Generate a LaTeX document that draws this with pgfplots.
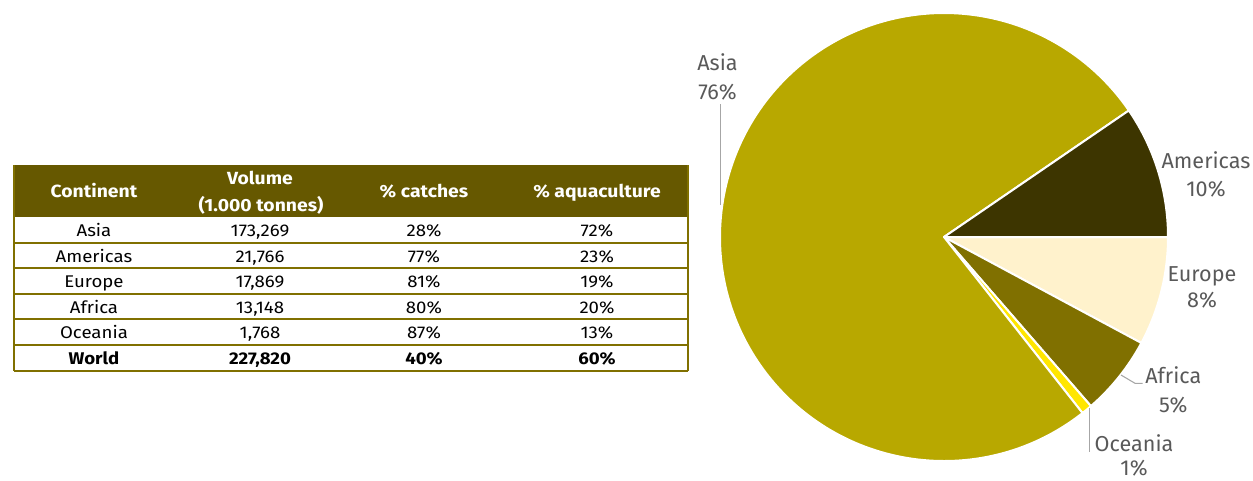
\documentclass[border=0pt]{standalone}
\usepackage{pgfplots}
\pgfplotsset{compat=1.18}
\usepackage{pgfplotstable}
\usepackage{fontspec}
\setmainfont{Fira Sans}
\newfontfamily\tablefont[FakeStretch=1.1]{Fira Sans}
\definecolor{cAsia}{RGB}{184,168,0}
\definecolor{cAmericas}{RGB}{61,53,0}
\definecolor{cEurope}{RGB}{255,242,204}
\definecolor{cAfrica}{RGB}{128,112,0}
\definecolor{cOceania}{RGB}{255,230,0}
\definecolor{hdr}{RGB}{102,88,0}
\definecolor{rule}{RGB}{128,112,0}
\definecolor{lbl}{RGB}{89,89,89}
\definecolor{lead}{RGB}{166,166,166}

% slices clockwise from 3 o'clock
\pgfplotstableread{
name value color
Europe 17869 cEurope
Africa 13148 cAfrica
Oceania 1768 cOceania
Asia 173269 cAsia
Americas 21766 cAmericas
}\piedata

\pgfplotstablegetrowsof{\piedata}
\pgfmathtruncatemacro\lastrow{\pgfplotsretval-1}
\xdef\total{0}
\foreach \i in {0,...,\lastrow}{%
  \pgfplotstablegetelem{\i}{value}\of\piedata
  \pgfkeys{/pgf/fpu=true,/pgf/fpu/output format=fixed}%
  \pgfmathparse{\total+\pgfplotsretval}%
  \xdef\total{\pgfmathresult}%
}
\xdef\cum{0}
\gdef\pieslices{}
\foreach \i in {0,...,\lastrow}{%
  \pgfplotstablegetelem{\i}{value}\of\piedata \let\sv\pgfplotsretval
  \pgfplotstablegetelem{\i}{color}\of\piedata \let\scol\pgfplotsretval
  \pgfkeys{/pgf/fpu=true,/pgf/fpu/output format=fixed}%
  \pgfmathparse{-360*\cum/\total}\let\sa\pgfmathresult
  \pgfmathparse{\cum+\sv}\xdef\cum{\pgfmathresult}%
  \pgfmathparse{-360*\cum/\total}\let\sb\pgfmathresult
  \pgfkeys{/pgf/fpu=false}%
  \xdef\pieslices{\unexpanded\expandafter{\pieslices}%
    \noexpand\fill[fill=\scol,draw=white,line width=1.5pt,line join=round] (axis cs:0,0) -- (axis cs:{cos(\sa)},{sin(\sa)}) arc[start angle=\sa,end angle=\sb,radius=1] -- cycle;}%
}

\begin{document}
\begin{tikzpicture}[x=0.75pt,y=-0.75pt]
\useasboundingbox (0,0) rectangle (1253,480);

% ---------- table ----------
\fill[hdr] (14,165) rectangle (688,216.5);
\foreach \yy in {242.7,268.3,294,319.3,345,370.7}{
  \draw[rule,line width=1.5pt] (14,\yy) -- (688,\yy);
}
\draw[rule,line width=1.5pt] (14,165) -- (14,370.7);
\draw[rule,line width=1.5pt] (688,165) -- (688,370.7);

\begin{scope}[every node/.style={anchor=base,inner sep=0pt,font=\tablefont\fontsize{12.7}{14}\selectfont}]
\node[text=white,font=\tablefont\bfseries\fontsize{13.2}{14}\selectfont] at (94,197) {Continent};
\node[text=white,font=\tablefont\bfseries\fontsize{13.2}{14}\selectfont] at (260,184) {Volume};
\node[text=white,font=\tablefont\bfseries\fontsize{13.2}{14}\selectfont] at (261,211) {(1.000 tonnes)};
\node[text=white,font=\tablefont\bfseries\fontsize{13.2}{14}\selectfont] at (424,197) {\% catches};
\node[text=white,font=\tablefont\bfseries\fontsize{13.2}{14}\selectfont] at (597,197) {\% aquaculture};

\node at (94,236.3) {Asia};      \node at (260,236.3) {173,269}; \node at (424,236.3) {28\%}; \node at (597,236.3) {72\%};
\node at (94,262) {Americas};    \node at (260,262) {21,766};    \node at (424,262) {77\%}; \node at (597,262) {23\%};
\node at (94,287.6) {Europe};    \node at (260,287.6) {17,869};  \node at (424,287.6) {81\%}; \node at (597,287.6) {19\%};
\node at (94,313.2) {Africa};    \node at (260,313.2) {13,148};  \node at (424,313.2) {80\%}; \node at (597,313.2) {20\%};
\node at (94,338.7) {Oceania};   \node at (260,338.7) {1,768};   \node at (424,338.7) {87\%}; \node at (597,338.7) {13\%};
\node[font=\tablefont\bfseries\fontsize{12.7}{14}\selectfont] at (94,364.4) {World};
\node[font=\tablefont\bfseries\fontsize{12.7}{14}\selectfont] at (260,364.4) {227,820};
\node[font=\tablefont\bfseries\fontsize{12.7}{14}\selectfont] at (424,364.4) {40\%};
\node[font=\tablefont\bfseries\fontsize{12.7}{14}\selectfont] at (597,364.4) {60\%};
\end{scope}

% ---------- pie ----------
\begin{axis}[at={(708pt,-177.75pt)}, anchor=origin, x=168pt, y=168pt,
  xmin=-1.05, xmax=1.05, ymin=-1.05, ymax=1.05, hide axis, clip=false]
\pieslices
\end{axis}

% leader lines
\draw[lead,line width=0.8pt] (720.7,104) -- (720.7,205);
\draw[lead,line width=0.8pt] (1121,375) -- (1135,383.3) -- (1142.7,383.3);
\draw[lead,line width=0.8pt] (1089.3,408.3) -- (1089.3,452.3);

% labels
\begin{scope}[every node/.style={anchor=base,inner sep=0pt,text=lbl,font=\fontsize{16.2}{18}\selectfont}]
\node at (717.5,70) {Asia};      \node at (717.5,99) {76\%};
\node at (1206,168) {Americas};  \node at (1206,196) {10\%};
\node at (1202,281.7) {Europe};  \node at (1202,307.5) {8\%};
\node at (1173.3,383.3) {Africa};\node at (1173.3,412.5) {5\%};
\node at (1134,451.8) {Oceania}; \node at (1134,475) {1\%};
\end{scope}
\end{tikzpicture}
\end{document}
